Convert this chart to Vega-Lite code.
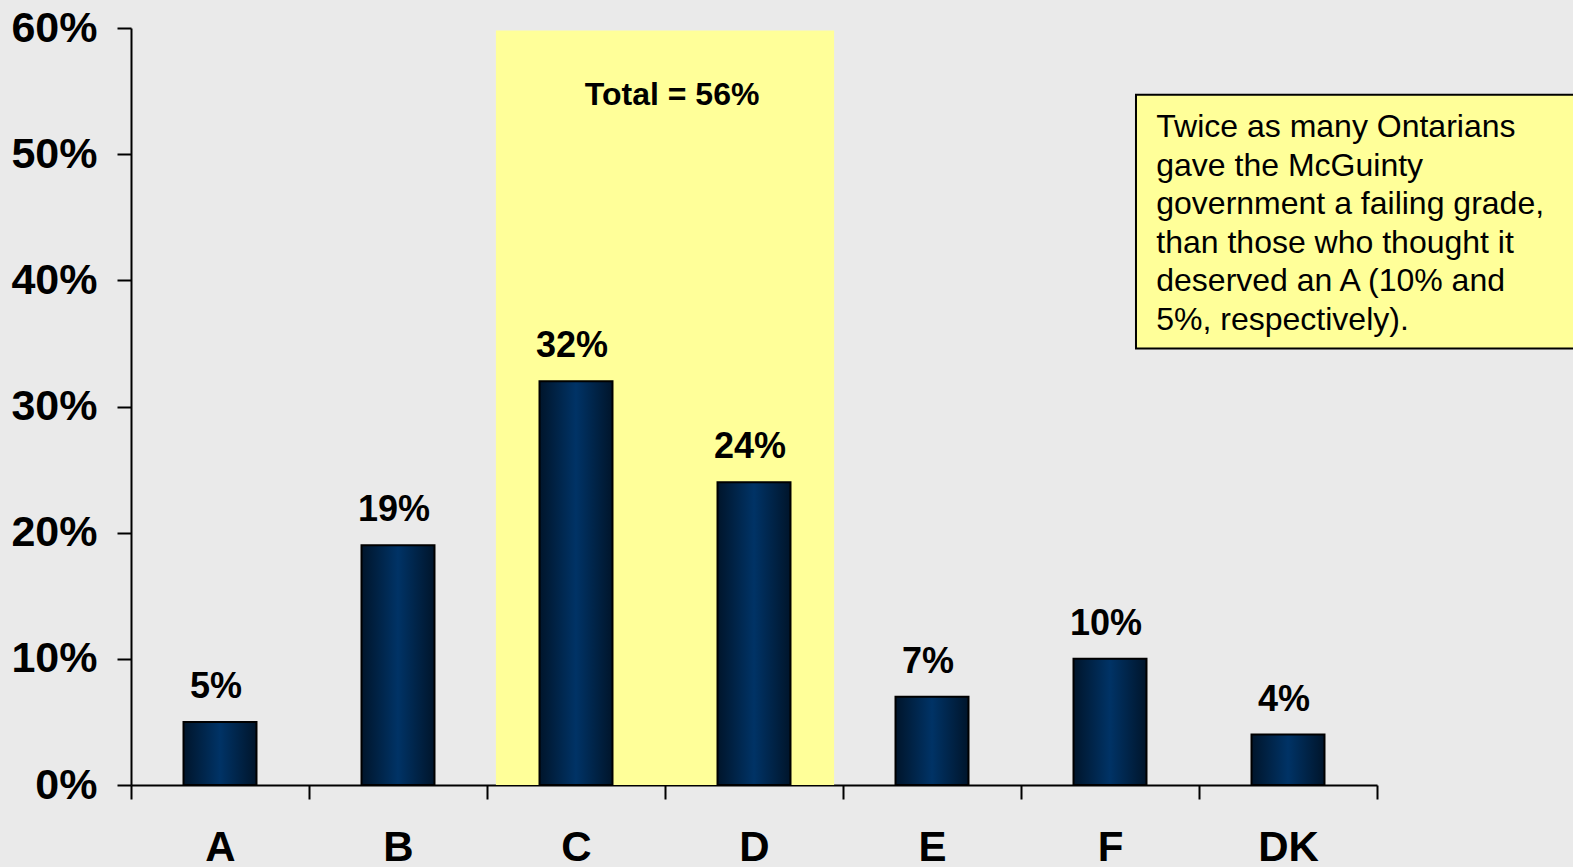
{
  "$schema": "https://vega.github.io/schema/vega-lite/v6.json",
  "width": 1246,
  "height": 757,
  "autosize": "none",
  "padding": {"left": 131, "top": 28, "right": 196, "bottom": 82},
  "background": "#EAEAEA",
  "config": {
    "view": {"stroke": null},
    "font": "Liberation Sans",
    "axis": {"domainColor": "black", "domainWidth": 2, "tickColor": "black", "tickWidth": 2, "tickSize": 14, "labelColor": "black", "labelFont": "Liberation Sans", "labelFontWeight": "bold", "labelFontSize": 43, "grid": false, "title": null}
  },
  "datasets": {
    "grades": [
      {"grade": "A", "pct": 5, "label": "5%"},
      {"grade": "B", "pct": 19, "label": "19%"},
      {"grade": "C", "pct": 32, "label": "32%"},
      {"grade": "D", "pct": 24, "label": "24%"},
      {"grade": "E", "pct": 7, "label": "7%"},
      {"grade": "F", "pct": 10, "label": "10%"},
      {"grade": "DK", "pct": 4, "label": "4%"}
    ],
    "highlight": [{"x0": 2.05, "x1": 3.95, "y0": 0, "y1": 59.8}],
    "total": [{"x": 3.04, "y": 53.9, "text": "Total = 56%"}],
    "box": [{"x0": 5.646, "x1": 8.5, "y0": 34.6, "y1": 54.7}],
    "note": [{"x": 5.76, "y": 51.36, "text": ["Twice as many Ontarians", "gave the McGuinty", "government a failing grade,", "than those who thought it", "deserved an A (10% and", "5%, respectively)."]}]
  },
  "resolve": {"scale": {"x": "independent"}, "axis": {"x": "independent"}},
  "layer": [
    {
      "data": {"name": "highlight"},
      "mark": {"type": "rect", "fill": "#FFFF99"},
      "encoding": {
        "x": {"field": "x0", "type": "quantitative", "scale": {"domain": [0, 7], "nice": false, "zero": false}, "axis": null},
        "x2": {"field": "x1"},
        "y": {"field": "y0", "type": "quantitative", "scale": {"domain": [0, 60], "nice": false},
              "axis": {"values": [0, 10, 20, 30, 40, 50, 60], "labelExpr": "datum.value + '%'", "labelPadding": 20}},
        "y2": {"field": "y1"}
      }
    },
    {
      "data": {"name": "grades"},
      "layer": [
        {
          "mark": {"type": "bar", "width": {"band": 0.41}, "stroke": "black", "strokeWidth": 2,
                   "color": {"gradient": "linear", "x1": 0, "x2": 1, "y1": 0, "y2": 0,
                             "stops": [{"offset": 0, "color": "#00152b"}, {"offset": 0.5, "color": "#003366"}, {"offset": 1, "color": "#00152b"}]}},
          "encoding": {
            "x": {"field": "grade", "type": "nominal", "sort": null, "scale": {"paddingInner": 0, "paddingOuter": 0},
                  "axis": {"tickBand": "extent", "labelAngle": 0, "labelPadding": 28, "labelBaseline": "top", "labelFontSize": 42}},
            "y": {"field": "pct", "type": "quantitative"}
          }
        },
        {
          "mark": {"type": "text", "fontSize": 36, "fontWeight": "bold", "baseline": "alphabetic", "dy": -24, "dx": -4, "color": "black"},
          "encoding": {
            "x": {"field": "grade", "type": "nominal", "sort": null},
            "y": {"field": "pct", "type": "quantitative"},
            "text": {"field": "label"}
          }
        }
      ]
    },
    {
      "data": {"name": "total"},
      "mark": {"type": "text", "fontSize": 32, "fontWeight": "bold", "baseline": "alphabetic", "align": "center", "color": "black"},
      "encoding": {
        "x": {"field": "x", "type": "quantitative", "scale": {"domain": [0, 7], "nice": false, "zero": false}, "axis": null},
        "y": {"field": "y", "type": "quantitative"},
        "text": {"field": "text"}
      }
    },
    {
      "data": {"name": "box"},
      "mark": {"type": "rect", "fill": "#FFFF99", "stroke": "black", "strokeWidth": 2},
      "encoding": {
        "x": {"field": "x0", "type": "quantitative", "scale": {"domain": [0, 7], "nice": false, "zero": false}, "axis": null},
        "x2": {"field": "x1"},
        "y": {"field": "y0", "type": "quantitative"},
        "y2": {"field": "y1"}
      }
    },
    {
      "data": {"name": "note"},
      "mark": {"type": "text", "fontSize": 32, "baseline": "alphabetic", "align": "left", "lineHeight": 38.5, "color": "black"},
      "encoding": {
        "x": {"field": "x", "type": "quantitative", "scale": {"domain": [0, 7], "nice": false, "zero": false}, "axis": null},
        "y": {"field": "y", "type": "quantitative"},
        "text": {"field": "text"}
      }
    }
  ]
}
